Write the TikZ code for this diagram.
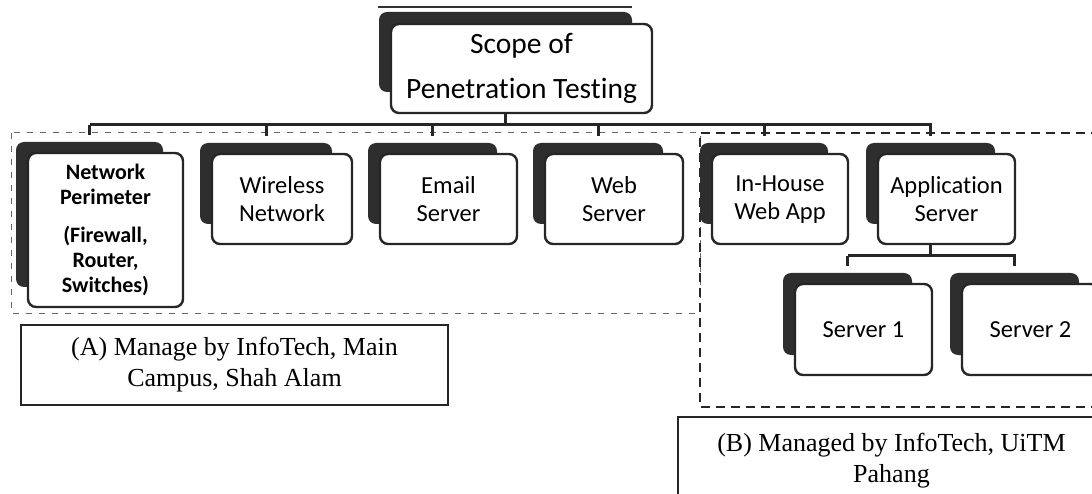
\documentclass[tikz,border=0pt]{standalone}
\usepackage{fontspec}
\setmainfont{Liberation Serif}
\newfontfamily\boxfont[Ligatures={NoCommon}]{Carlito}

% one tier box: a dark back plate with a white rounded card in front of it
% [#1] extra card style, #2 name, #3 left, #4 top, #5 right, #6 bottom, #7 text
\newcommand\tierbox[7][]{%
  \node[backplate, minimum width={#5-#3-8}, minimum height={#6-#4-9}]
    (#2b) at ({(#3+#5)/2-16},{(#4+#6)/2-15.5}) {};
  \node[card, minimum width={#5-#3}, minimum height={#6-#4}, #1]
    (#2) at ({(#3+#5)/2},{(#4+#6)/2}) {#7};
}

\begin{document}
\begin{tikzpicture}[x=1pt,y=-1pt,
  card/.style={draw=black!85, line width=2.4pt, fill=white, rounded corners=8pt,
    inner sep=0pt, align=center, font=\boxfont\fontsize{24.5}{28}\selectfont},
  backplate/.style={fill=black!82, rounded corners=8pt, inner sep=0pt},
  link/.style={draw=black!85, line width=3pt, shorten >=7pt},
  regionA/.style={draw=black!60, line width=1pt, dash pattern=on 6pt off 7pt},
  regionB/.style={draw=black!85, line width=1.5pt, dash pattern=on 9pt off 6pt},
  caption/.style={draw=black!85, line width=1.4pt, inner sep=0pt, align=center,
    font=\fontsize{26}{31}\selectfont}]

\useasboundingbox (0,0) rectangle (1092,494);
\clip (0,0) rectangle (1092,494);

% rule above the root
\coordinate (ruleL) at (378,7);
\coordinate (ruleR) at (632,7);
\draw[line width=1.6pt, black!80] (ruleL) -- (ruleR);

% management regions
\draw[regionA] (11,133) rectangle (700,313);
\draw[regionB] (1100,133) -- (700,133) -- (700,407) -- (1100,407);

% root
\node[backplate, minimum width=253, minimum height=80] (topb) at (505.5,52) {};
\node[card, minimum width=261, minimum height=89,
  font=\boxfont\fontsize{29.5}{45}\selectfont] (top) at (521.5,68.5)
  {Scope of\\Penetration Testing};

% first tier
\tierbox[font=\boxfont\bfseries\fontsize{22}{25}\selectfont]
  {nper}{28}{153}{183}{307}{Network\\Perimeter\\[13pt](Firewall,\\Router,\\Switches)}
\tierbox{wire}{212}{154}{352}{244}{Wireless\\Network}
\tierbox{mail}{380}{154}{517}{244}{Email\\Server}
\tierbox{web}{545}{154}{683}{244}{Web\\Server}
\tierbox[text depth=0.25em]{inh}{712}{154}{848}{244}{In-House\\Web App}
\tierbox{app}{878}{154}{1015}{244}{Application\\Server}

% second tier
\tierbox{srvA}{795}{284}{932}{375}{Server 1}
\tierbox{srvB}{962}{284}{1099}{375}{Server 2}

% root to first tier
\coordinate (bar) at (0,125);
\draw[link, shorten >=0pt] (top.south -| topb) -- (topb |- bar);
\draw[link] (nperb |- bar) -- (appb |- bar) -- (appb.north);
\foreach \n in {nper,wire,mail,web,inh}
  \draw[link] (\n b |- bar) -- (\n b.north);

% application server to its servers
\coordinate (bar2) at (0,256);
\draw[link, shorten >=0pt] (app.south -| appb) -- (appb |- bar2);
\draw[link] (srvAb |- bar2) -- (srvAb.north);
\draw[link] (srvAb |- bar2) -- (srvBb |- bar2) -- (srvBb.north);

% region captions
\node[caption, minimum width=427, minimum height=80] (capA) at (234.5,365)
  {(A) Manage by InfoTech, Main\\Campus, Shah Alam};
\node[caption, minimum width=427, minimum height=88] (capB) at (891.5,461)
  {(B) Managed by InfoTech, UiTM\\Pahang};
\end{tikzpicture}
\end{document}
